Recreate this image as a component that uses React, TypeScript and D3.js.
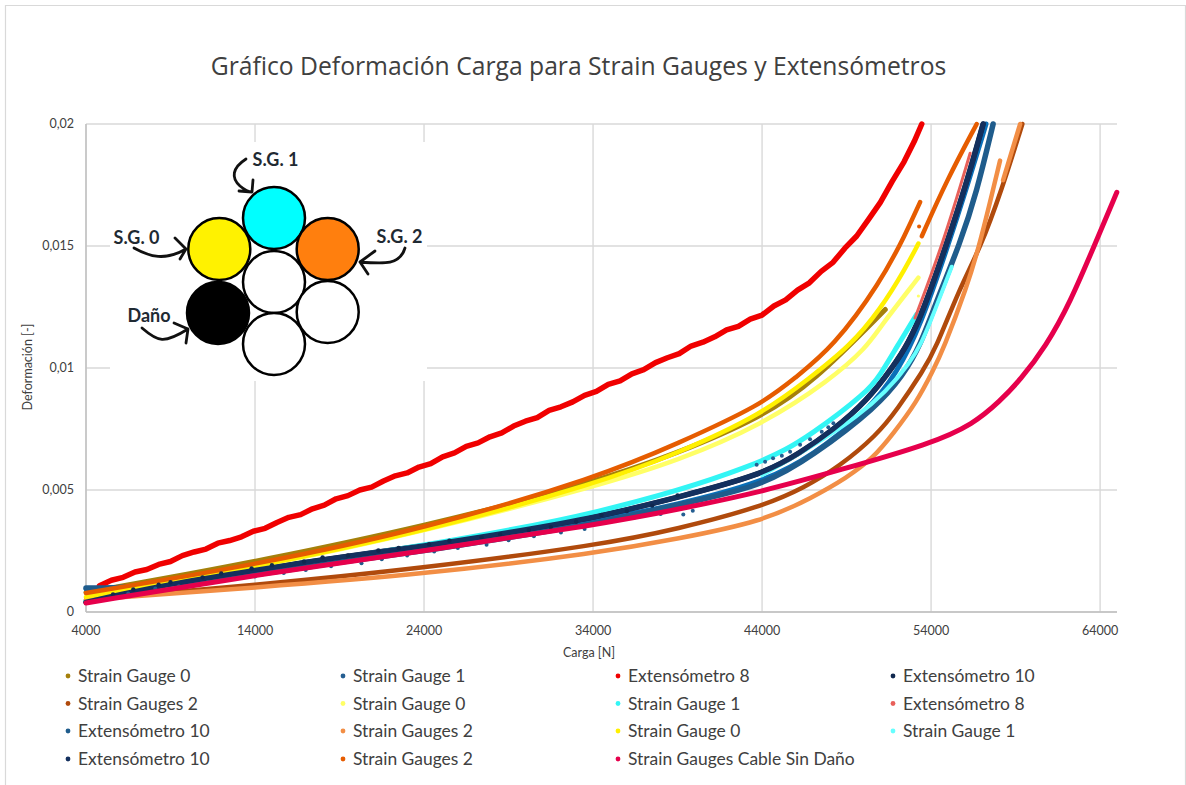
import React from "react";
import * as d3 from "d3";

type P = [number, number];

const xTicks = [4000, 14000, 24000, 34000, 44000, 54000, 64000];
const yTicks = [0, 0.005, 0.01, 0.015, 0.02];
const yTickLabels = ["0", "0,005", "0,01", "0,015", "0,02"];

const sg0Olive: P[] = [[4000, .0008], [9000, .00142], [14000, .00206], [24000, .0035], [34000, .0053], [39000, .0065], [44000, .008], [47000, .0094], [51290, .0124]];
const sg1Blue: P[] = [[4000, .00095], [9000, .0011], [14000, .00155], [24000, .0026], [34000, .0037], [39000, .0044], [44000, .0053], [47000, .0064], [50200, .0082], [52000, .0098], [53400, .0118], [54900, .0148], [56200, .0176], [57250, .02]];
const ext8Red: P[] = [[4800, .00108], [5500, .0013], [6200, .00142], [6900, .00164], [7600, .00174], [8300, .00195], [9000, .00207], [9700, .00231], [10400, .00246], [11100, .00258], [11800, .00282], [12500, .00293], [13200, .00308], [13900, .00331], [14600, .00343], [15300, .00367], [16000, .00388], [16700, .00399], [17400, .00423], [18100, .00438], [18800, .00464], [19500, .00477], [20200, .005], [20900, .00512], [21600, .00537], [22300, .00558], [23000, .0057], [23700, .00594], [24400, .00608], [25100, .00636], [25800, .00652], [26500, .00679], [27200, .00693], [27900, .00718], [28600, .00734], [29300, .00762], [30000, .00782], [30700, .00797], [31400, .00826], [32100, .00841], [32800, .00861], [33500, .00888], [34200, .00904], [34900, .00933], [35600, .00947], [36300, .00976], [37000, .00993], [37700, .01022], [38400, .01042], [39100, .01059], [39800, .0109], [40500, .01106], [41200, .01128], [41900, .01156], [42600, .01171], [43300, .012], [44000, .01217], [44700, .01254], [45400, .01279], [46100, .01319], [46800, .01349], [47500, .01396], [48200, .01433], [48900, .01491], [49600, .01541], [50300, .01609], [51000, .01679], [51700, .01765], [52400, .01845], [53000, .01928], [53450, .02]];
const ext10Navy: P[] = [[4000, .0004], [6000, .00072], [9000, .00115], [14000, .00172], [19000, .00225], [24000, .0027], [29000, .00325], [34410, .0039], [39000, .0047], [44000, .00562], [46250, .00652], [48200, .00745], [50200, .00865], [51750, .01005], [52640, .011], [53540, .01235], [54930, .0151], [56110, .0176], [57080, .02]];
const sg2Brown: P[] = [[4000, .0005], [14000, .0011], [24000, .0018], [34410, .00275], [39000, .0034], [44000, .00432], [46500, .0051], [48610, .00598], [50790, .00725], [52000, .0083], [53540, .0099], [54240, .01074], [55710, .0133], [56900, .0149], [58180, .0173], [59400, .02]];
const sg0LightYellow: P[] = [[4000, .0006], [14000, .0018], [24000, .0033], [34410, .0052], [39000, .0062], [44000, .00767], [48020, .0095], [50200, .01085], [51000, .0117], [53250, .0137]];
const sg1Cyan: P[] = [[4000, .00045], [14000, .00165], [24000, .00272], [34410, .004], [44000, .00603], [47000, .0073], [50200, .009], [50980, .0097], [52000, .0109], [53150, .0122]];
const ext8Salmon: P[] = [[53050, .01205], [54710, .0151], [56310, .0188]];
const ext10Blue: P[] = [[4000, .00098], [6000, .00098], [9000, .00115], [14000, .0015], [19000, .00205], [24000, .0025], [29000, .00305], [34000, .0036], [39000, .0044], [44000, .00514], [47000, .0064], [50790, .0084], [52340, .0097], [53350, .0109], [54330, .01275], [55710, .0151], [56700, .0172], [57670, .02]];
const sg2LightOrange: P[] = [[4000, .0005], [14000, .001], [24000, .00155], [34410, .00243], [39000, .003], [44000, .0037], [47000, .0047], [49000, .0055], [50570, .0063], [51750, .0073], [53150, .0086], [54120, .0099], [54710, .01074], [56110, .0133], [56900, .0151], [58080, .0185]];
const sg2LightOrangeUpper: P[] = [[58260, .0177], [59270, .02]];
const sg0Yellow: P[] = [[4000, .00062], [14000, .00185], [24000, .0033], [34410, .0053], [39000, .0065], [44000, .0081], [46840, .0096], [49200, .0109], [51000, .0124], [52500, .0141], [53250, .0151]];
const sg1LightCyan: P[] = [[44000, .0056], [50000, .008], [53000, .0103], [53940, .01185], [55220, .01415]];
const ext10Navy2: P[] = ext10Navy;
const sg2Orange: P[] = [[4000, .00078], [14000, .00193], [24000, .0034], [34410, .00555], [39000, .0069], [44000, .0085], [45950, .0096], [48200, .01085], [51000, .0135], [52500, .0155], [53350, .0168]];
const sg2OrangeUpper: P[] = [[53450, .0154], [54930, .0177], [56700, .02]];
const cableSinDano: P[] = [[4000, .00037], [14000, .00152], [24000, .0025], [34410, .0036], [39000, .0042], [44000, .00493], [48610, .00582], [54000, .0069], [56500, .0077], [58080, .00865], [59270, .0095], [60800, .0109], [62220, .01267], [63800, .01525], [64990, .0172]];

const sg1Specks: P[] = [[39340, .004], [39900, .00415], [43680, .00603], [44180, .00616], [44650, .0063], [45170, .0064], [45660, .00657], [46250, .00685], [46840, .00708], [47530, .00739], [47920, .00757], [48220, .00774]];
const navySpecks: P[] = [[5600, .00072], [6800, .00092], [8300, .00112], [9000, .00122], [10900, .00142], [12000, .00158], [13800, .00178], [15000, .00192], [16900, .00207], [18000, .00224], [19500, .00232], [21300, .00252], [22500, .00262], [24300, .00278], [25500, .00292], [27400, .00306], [28500, .00318], [30200, .00336], [31500, .00348], [33000, .0037], [34500, .00398], [36000, .00414], [37500, .00436], [39000, .00478]];
const blueSpecks: P[] = [[6500, .00076], [8100, .00096], [9500, .00106], [11200, .00122], [12500, .00136], [14000, .00146], [15700, .0016], [17000, .00172], [18500, .00188], [20300, .002], [21500, .00216], [23000, .00232], [24600, .00248], [26000, .00262], [27700, .00276], [29000, .00294], [30500, .0031], [32100, .00326], [33500, .0034], [35000, .00372], [36500, .00388], [38000, .00402]];
const orangeSpecks: P[] = [[53290, .0158]];
const yellowSpecks: P[] = [[53250, .01295]];

const C = {
  olive: "#A5800B", blue1: "#255E91", red: "#F00000", navy: "#10284F", brown: "#B04A0C",
  ltYellow: "#FFFF66", cyan: "#33F5F5", salmon: "#E8605A", blue10: "#1F5C8C", ltOrange: "#F28E45",
  yellow: "#FFF000", ltCyan: "#66FFFF", navy2: "#14305E", orange: "#E65C00", pink: "#E6004C",
};

const series: { data: P[]; color: string; w: number; jagged?: boolean }[] = [
  { data: sg0Olive, color: C.olive, w: 5 },
  { data: sg1Blue, color: "#0A6FB8", w: 5 },
  { data: ext8Red, color: C.red, w: 5.5, jagged: true },
  { data: ext10Navy, color: C.navy, w: 5.5 },
  { data: sg2Brown, color: C.brown, w: 4.5 },
  { data: sg0LightYellow, color: C.ltYellow, w: 4.5 },
  { data: sg1Cyan, color: C.cyan, w: 5 },
  { data: ext8Salmon, color: C.salmon, w: 3 },
  { data: ext10Blue, color: C.blue10, w: 5.5 },
  { data: sg2LightOrange, color: C.ltOrange, w: 4.5 },
  { data: sg2LightOrangeUpper, color: C.ltOrange, w: 4.5 },
  { data: sg0Yellow, color: C.yellow, w: 4.5 },
  { data: sg1LightCyan, color: C.ltCyan, w: 4 },
  { data: ext10Navy2, color: C.navy2, w: 5 },
  { data: sg2Orange, color: C.orange, w: 4.5 },
  { data: sg2OrangeUpper, color: C.orange, w: 4.5 },
];
const topSeries = { data: cableSinDano, color: C.pink, w: 5 };

const legendItems: [string, string][] = [
  ["Strain Gauge 0", C.olive], ["Strain Gauge 1", C.blue1], ["Extensómetro 8", C.red], ["Extensómetro 10", C.navy],
  ["Strain Gauges 2", C.brown], ["Strain Gauge 0", C.ltYellow], ["Strain Gauge 1", C.cyan], ["Extensómetro 8", C.salmon],
  ["Extensómetro 10", C.blue10], ["Strain Gauges 2", C.ltOrange], ["Strain Gauge 0", C.yellow], ["Strain Gauge 1", C.ltCyan],
  ["Extensómetro 10", C.navy2], ["Strain Gauges 2", C.orange], ["Strain Gauges Cable Sin Daño", C.pink],
];

const strands: [number, number, string][] = [
  [274, 218, "#00FFFF"], [219.3, 249, "#FFF200"], [327.7, 249, "#FF7F0E"],
  [274, 282, "#FFFFFF"], [218, 313, "#000000"], [327.7, 312, "#FFFFFF"], [274, 344, "#FFFFFF"],
];
const insetLabels: [string, number, number][] = [
  ["S.G. 1", 275.5, 160], ["S.G. 0", 136.5, 238], ["S.G. 2", 399.5, 237], ["Daño", 149, 316],
];
const insetArrows = [
  "M246 159 C232 168 231 178 240 186 C246 191 250 192 252 192 M239 191 L252 192 L253 180",
  "M134 248 C150 257 165 261 186 249 M175 238 L186 249 L180 259",
  "M405 248 C400 265 385 264 360 262 M375 251 L360 262 L368 274",
  "M142 328 C158 342 164 344 188 329 M174 323 L188 329 L186 343",
];

const W = 1186, H = 785;
const x = d3.scaleLinear().domain([4000, 65000]).range([86, 1117]);
const y = d3.scaleLinear().domain([0, 0.02]).range([612, 124]);
const smooth = d3.line<P>().x(d => x(d[0])).y(d => y(d[1])).curve(d3.curveBasis);
const jaggedLine = d3.line<P>().x(d => x(d[0])).y(d => y(d[1]));

const legendCols = [66, 341, 616, 891];
const legendRows = [676, 703.5, 731, 759];
const FONT = "Lato, 'Open Sans', sans-serif";

const curve = (s: { data: P[]; color: string; w: number; jagged?: boolean }, key: number | string) => (
  <path key={key} d={(s.jagged ? jaggedLine : smooth)(s.data) ?? ""} fill="none" stroke={s.color} strokeWidth={s.w}
    strokeLinecap="round" strokeLinejoin="round" />
);

export default function App() {
  return (
    <svg width={W} height={H} style={{ position: "absolute", left: 0, top: 0, background: "#fff" }}>
      <path d="M5.5 785 V5.5 H1185.5 V785" fill="none" stroke="#D9D9D9" strokeWidth={1.2} />
      <text x={578.5} y={75} textAnchor="middle" fontFamily="'Open Sans', sans-serif" fontSize={24.7} fill="#404040">
        Gráfico Deformación Carga para Strain Gauges y Extensómetros
      </text>
      {xTicks.map(t => <line key={t} x1={x(t)} x2={x(t)} y1={124} y2={612} stroke="#D9D9D9" strokeWidth={1.4} />)}
      {yTicks.map(t => <line key={t} x1={86} x2={1117} y1={y(t)} y2={y(t)} stroke="#D9D9D9" strokeWidth={1.4} />)}
      <line x1={86} x2={86} y1={124} y2={612} stroke="#BFBFBF" strokeWidth={1.4} />
      <line x1={86} x2={1117} y1={612} y2={612} stroke="#BFBFBF" strokeWidth={1.4} />
      {xTicks.map(t => (
        <text key={t} x={x(t)} y={635} textAnchor="middle" fontFamily={FONT} fontSize={12.5} fill="#404040">{t}</text>
      ))}
      {yTicks.map((t, i) => (
        <text key={t} x={74} y={y(t) + 4} textAnchor="end" fontFamily={FONT} fontSize={12.5} fill="#404040">{yTickLabels[i]}</text>
      ))}
      <text x={589} y={657} textAnchor="middle" fontFamily={FONT} fontSize={12.5} fill="#404040">Carga [N]</text>
      <text transform="translate(32,367) rotate(-90)" textAnchor="middle" fontFamily={FONT} fontSize={12.5} fill="#404040">Deformación [-]</text>

      {series.map((s, i) => curve(s, i))}
      {sg1Specks.map((d, i) => <circle key={i} cx={x(d[0])} cy={y(d[1])} r={2} fill={C.blue1} />)}
      {navySpecks.map((d, i) => <circle key={i} cx={x(d[0])} cy={y(d[1])} r={2.2} fill={C.navy} />)}
      {blueSpecks.map((d, i) => <circle key={i} cx={x(d[0])} cy={y(d[1])} r={2} fill={C.blue10} />)}
      {orangeSpecks.map((d, i) => <circle key={i} cx={x(d[0])} cy={y(d[1])} r={2} fill={C.orange} />)}
      {yellowSpecks.map((d, i) => <circle key={i} cx={x(d[0])} cy={y(d[1])} r={1.6} fill={C.ltYellow} />)}
      {curve(topSeries, "top")}

      <rect x={110} y={142} width={317} height={239} fill="#fff" />
      {strands.map(([cx, cy, f], i) => (
        <circle key={i} cx={cx} cy={cy} r={31} fill={f} stroke="#000" strokeWidth={2.5} />
      ))}
      {insetArrows.map((d, i) => (
        <path key={i} d={d} fill="none" stroke="#111" strokeWidth={2.8} strokeLinecap="round" strokeLinejoin="round" />
      ))}
      {insetLabels.map(([t, lx, ly]) => (
        <text key={t} x={lx} y={ly + 6} textAnchor="middle" fontFamily={FONT} fontWeight={700} fontSize={18} fill="#1f2a33">{t}</text>
      ))}

      {legendItems.map(([t, c], i) => {
        const cx = legendCols[i % 4];
        const cy = legendRows[Math.floor(i / 4)];
        return (
          <g key={i}>
            <circle cx={cx + 2} cy={cy} r={2.4} fill={c} />
            <text x={cx + 12} y={cy + 6} fontFamily={FONT} fontSize={17.45} fill="#404040">{t}</text>
          </g>
        );
      })}
    </svg>
  );
}
